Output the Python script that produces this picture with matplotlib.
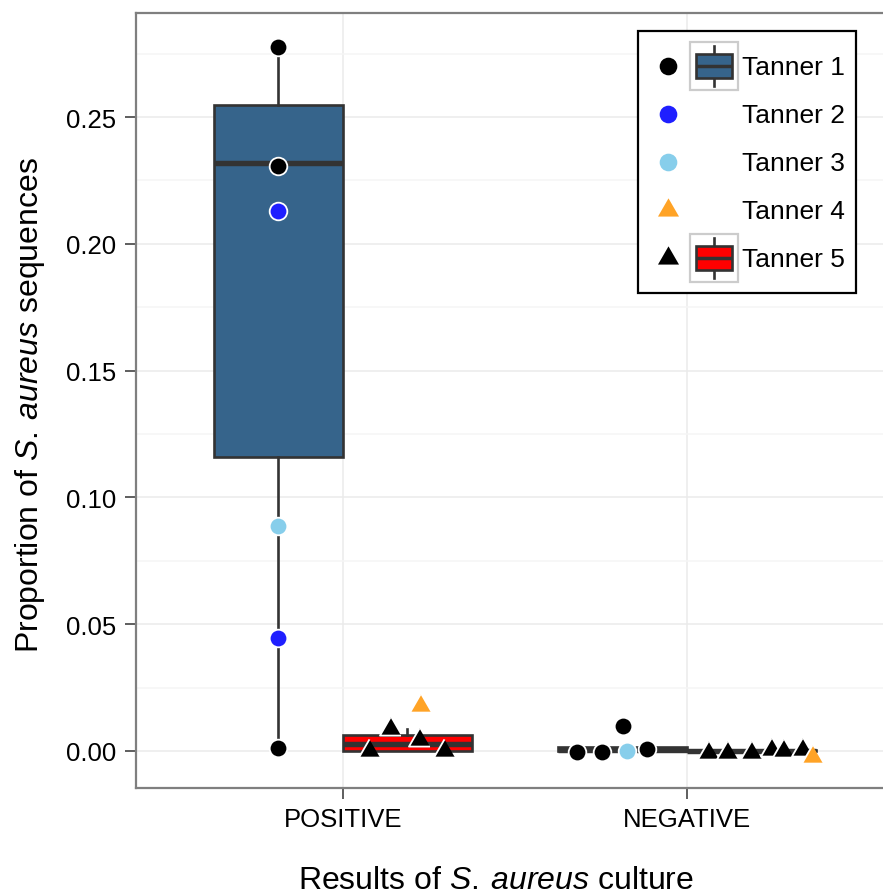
import matplotlib
matplotlib.use("Agg")
import matplotlib.pyplot as plt
from matplotlib.legend_handler import HandlerBase
from matplotlib.lines import Line2D
from matplotlib.patches import Rectangle
from matplotlib.ticker import MultipleLocator

plt.rcParams['font.family'] = ['Liberation Sans', 'DejaVu Sans']
plt.rcParams['mathtext.fontset'] = 'custom'
plt.rcParams['mathtext.rm'] = 'Liberation Sans'
plt.rcParams['mathtext.it'] = 'Liberation Sans:italic'

# ---------------- data ----------------
categories = ["POSITIVE", "NEGATIVE"]
tanners = ["Tanner 1", "Tanner 2", "Tanner 3", "Tanner 4", "Tanner 5"]
tanner_colors = ["#000000", "#1F1FFF", "#87CEEB", "#FFA326", "#000000"]
tanner_shapes = ["circle", "circle", "circle", "triangle", "triangle"]

# box statistics per category (steelblue box = circle tanners, red box = triangle tanners)
blue_whislo = [0.0012, 0.0000]
blue_q1 = [0.1159, 0.0000]
blue_med = [0.2319, 0.0002]
blue_q3 = [0.2547, 0.0016]
blue_whishi = [0.2776, 0.0016]

red_whislo = [0.0000, 0.0000]
red_q1 = [0.0000, 0.0000]
red_med = [0.0028, 0.0001]
red_q3 = [0.0065, 0.0003]
red_whishi = [0.0088, 0.0003]

# points: category, value, horizontal jitter
t1_cat = ["POSITIVE", "POSITIVE", "POSITIVE", "NEGATIVE", "NEGATIVE", "NEGATIVE", "NEGATIVE"]
t1_val = [0.2776, 0.2307, 0.0012, -0.0003, -0.0003, 0.0008, 0.0097]
t1_jit = [0.0, 0.0, 0.0, -0.134, -0.059, 0.071, 0.002]

t2_cat = ["POSITIVE", "POSITIVE"]
t2_val = [0.2129, 0.0446]
t2_jit = [0.0, 0.0]

t3_cat = ["POSITIVE", "NEGATIVE"]
t3_val = [0.0887, 0.0001]
t3_jit = [0.0, 0.014]

t4_cat = ["POSITIVE", "NEGATIVE"]
t4_val = [0.0177, -0.0025]
t4_jit = [0.036, 0.174]

t5_cat = ["POSITIVE", "POSITIVE", "POSITIVE", "POSITIVE",
          "NEGATIVE", "NEGATIVE", "NEGATIVE", "NEGATIVE", "NEGATIVE", "NEGATIVE"]
t5_val = [0.0001, 0.0087, 0.0043, 0.0000,
          -0.0006, -0.0006, -0.0008, 0.0005, 0.0000, 0.0002]
t5_jit = [-0.111, -0.050, 0.034, 0.107,
          -0.128, -0.071, -0.003, 0.056, 0.091, 0.145]

y_ticks = [0.00, 0.05, 0.10, 0.15, 0.20, 0.25]
y_tick_labels = ["0.00", "0.05", "0.10", "0.15", "0.20", "0.25"]

# ---------------- styling ----------------
W, H = 883, 895
fig = plt.figure(figsize=(W / 100, H / 100), dpi=100)
ax = fig.add_axes([136 / W, 1 - 789 / H, 758 / W, 775 / H])

BOX_FILL_BLUE = "#36648B"
BOX_FILL_RED = "#FF0000"
EDGE = "#333333"
TRI = [(0, 1.1547), (-1, -0.5774), (1, -0.5774)]
CIRC_MS = 12.7
TRI_MS = 17.5

dodge = 0.1875
box_w = 0.375
cat_pos = {c: i + 1 for i, c in enumerate(categories)}


def stats(wl, q1, med, q3, wh):
    return [dict(whislo=wl[i], q1=q1[i], med=med[i], q3=q3[i], whishi=wh[i], fliers=[])
            for i in range(len(categories))]


for st, fill, off in [(stats(blue_whislo, blue_q1, blue_med, blue_q3, blue_whishi), BOX_FILL_BLUE, -dodge),
                      (stats(red_whislo, red_q1, red_med, red_q3, red_whishi), BOX_FILL_RED, dodge)]:
    ax.bxp(st, positions=[p + off for p in range(1, len(categories) + 1)], widths=box_w,
           patch_artist=True, showcaps=False, showfliers=False,
           boxprops=dict(facecolor=fill, edgecolor=EDGE, linewidth=1.9),
           whiskerprops=dict(color=EDGE, linewidth=1.9),
           medianprops=dict(color=EDGE, linewidth=3.9, solid_capstyle='butt'),
           zorder=2)

series = [
    (t1_cat, t1_val, t1_jit, 0),
    (t2_cat, t2_val, t2_jit, 1),
    (t3_cat, t3_val, t3_jit, 2),
    (t5_cat, t5_val, t5_jit, 4),
    (t4_cat, t4_val, t4_jit, 3),
]
for cats, vals, jits, ti in series:
    off = -dodge if tanner_shapes[ti] == "circle" else dodge
    xs = [cat_pos[c] + off + j for c, j in zip(cats, jits)]
    if tanner_shapes[ti] == "circle":
        ax.plot(xs, vals, linestyle='none', marker='o', ms=CIRC_MS, mfc=tanner_colors[ti],
                mec='white', mew=1.3, zorder=4)
    else:
        ax.plot(xs, vals, linestyle='none', marker=TRI, ms=TRI_MS, mfc=tanner_colors[ti],
                mec='white', mew=1.3, zorder=4)

ax.set_xlim(0.4, 2.6)
ax.set_ylim((752 - 789) / 2536, (752 - 14) / 2536)
ax.set_xticks([1, 2])
ax.set_xticklabels(categories)
ax.set_yticks(y_ticks)
ax.set_yticklabels(y_tick_labels)
ax.yaxis.set_minor_locator(MultipleLocator(0.025))
ax.tick_params(axis='both', which='major', labelsize=18.5, length=8, width=1.1,
               color='#333333', labelcolor='black')
ax.tick_params(axis='x', pad=5.5)
ax.tick_params(axis='y', pad=6.5)
ax.tick_params(axis='y', which='minor', length=0)

ax.set_axisbelow(True)
ax.grid(True, which='major', color='#EBEBEB', linewidth=1.1)
ax.grid(True, which='minor', axis='y', color='#F5F5F5', linewidth=1.1)
for s in ax.spines.values():
    s.set_color('#7F7F7F')
    s.set_linewidth(1.6)

fig.text(30 / W, 1 - 405 / H, r"Proportion of $\it{S.\:aureus}$ sequences",
         rotation=90, ha='center', va='center', fontsize=23)
fig.text(496 / W, 1 - 889 / H, r"Results of $\it{S.\:aureus}$ culture",
         ha='center', va='baseline', fontsize=23)


# ---------------- legend ----------------
class KeyHandler(HandlerBase):
    def __init__(self, shape, color, box_fill=None):
        super().__init__()
        self.shape = shape
        self.color = color
        self.box_fill = box_fill

    def create_artists(self, legend, orig_handle, xdescent, ydescent, width, height, fontsize, trans):
        x0, y0 = -xdescent, -ydescent
        arts = []
        if self.box_fill is not None:
            arts.append(Rectangle((x0 + 0.46 * width, y0), 0.54 * width, height,
                                  facecolor='white', edgecolor='#CCCCCC', lw=1.6, transform=trans))
            cx = x0 + 0.73 * width
            arts.append(Line2D([cx, cx], [y0 + 0.08 * height, y0 + 0.92 * height],
                               color=EDGE, lw=1.9, transform=trans))
            arts.append(Rectangle((x0 + 0.528 * width, y0 + 0.25 * height), 0.405 * width, 0.5 * height,
                                  facecolor=self.box_fill, edgecolor=EDGE, lw=1.9, transform=trans))
            arts.append(Line2D([x0 + 0.528 * width, x0 + 0.933 * width], [y0 + 0.5 * height] * 2,
                               color=EDGE, lw=2.5, solid_capstyle='butt', transform=trans))
        mk = 'o' if self.shape == "circle" else TRI
        ms = CIRC_MS if self.shape == "circle" else TRI_MS
        arts.append(Line2D([x0 + 0.213 * width], [y0 + 0.5 * height], linestyle='none', marker=mk,
                           ms=ms, mfc=self.color, mec=self.color, mew=0, transform=trans))
        return arts


handles = [Line2D([], [], label=t) for t in tanners]
box_for = {0: BOX_FILL_BLUE, 4: BOX_FILL_RED}
hmap = {h: KeyHandler(tanner_shapes[i], tanner_colors[i], box_for.get(i)) for i, h in enumerate(handles)}
leg = fig.legend(handles=handles, labels=tanners, handler_map=hmap, loc='upper left',
                 bbox_to_anchor=(638 / W, 1 - 32 / H), bbox_transform=fig.transFigure,
                 borderaxespad=0, fontsize=19, handlelength=3.37, handleheight=2.396,
                 handletextpad=0.15, labelspacing=0.02, borderpad=0.42, fancybox=False,
                 framealpha=1, edgecolor='black')
leg.get_frame().set_linewidth(1.6)

fig.savefig("out.png", dpi=100)
